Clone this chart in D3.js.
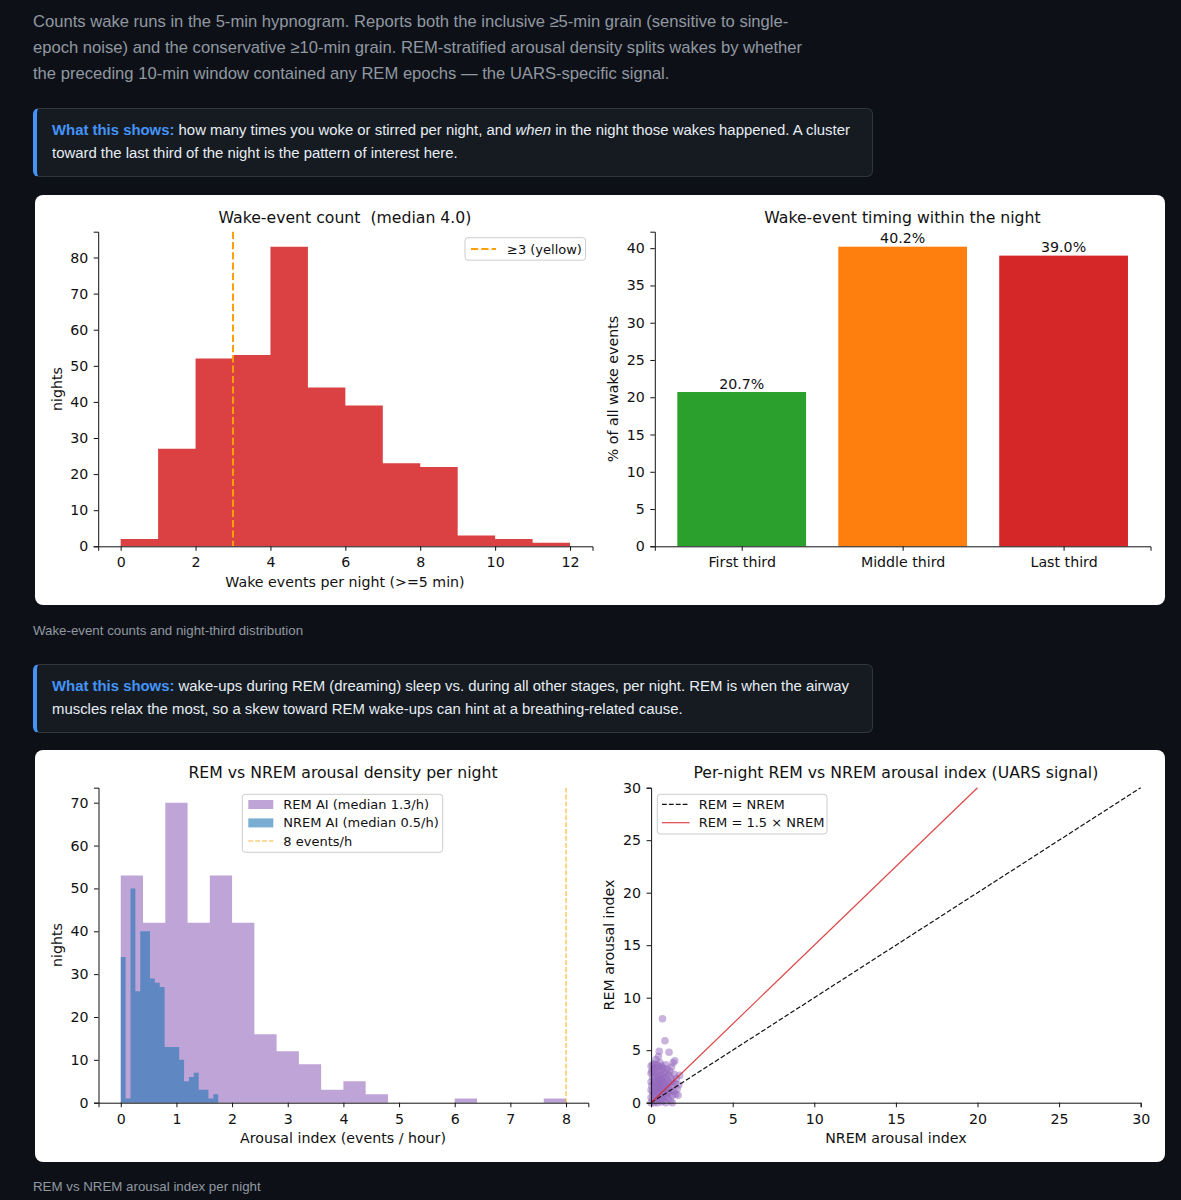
<!DOCTYPE html>
<html>
<head>
<meta charset="utf-8">
<script src="https://cdn.jsdelivr.net/npm/d3@7"></script>
<style>
  body { margin:0; background:#0d1117; width:1181px; height:1200px; position:relative; overflow:hidden;
         font-family:"Liberation Sans", Arial, sans-serif; }
  .para { position:absolute; left:33px; top:9px; color:#9198a1; font-size:16.6px; line-height:26px; white-space:nowrap; }
  .note { position:absolute; left:33px; width:840px; height:69px; box-sizing:border-box; background:#161b22;
          border:1px solid #30363d; border-left:4px solid #4493f8; border-radius:6px;
          padding:10px 0 0 15px; color:#e6edf3; font-size:14.9px; line-height:23px; white-space:nowrap; }
  .note b { color:#4493f8; }
  .cap { position:absolute; left:33px; color:#9198a1; font-size:13.3px; line-height:16px; white-space:nowrap; }
  svg { position:absolute; left:0; top:0; }
  svg text { white-space:pre; }
</style>
</head>
<body>
<div class="para">Counts wake runs in the 5-min hypnogram. Reports both the inclusive ≥5-min grain (sensitive to single-<br>epoch noise) and the conservative ≥10-min grain. REM-stratified arousal density splits wakes by whether<br>the preceding 10-min window contained any REM epochs — the UARS-specific signal.</div>
<div class="note" style="top:108px"><b>What this shows:</b> how many times you woke or stirred per night, and <i>when</i> in the night those wakes happened. A cluster<br>toward the last third of the night is the pattern of interest here.</div>
<div class="cap" style="top:623px">Wake-event counts and night-third distribution</div>
<div class="note" style="top:664px"><b>What this shows:</b> wake-ups during REM (dreaming) sleep vs. during all other stages, per night. REM is when the airway<br>muscles relax the most, so a skew toward REM wake-ups can hint at a breathing-related cause.</div>
<div class="cap" style="top:1179px">REM vs NREM arousal index per night</div>
<script>
// wake events per night histogram
const wakeEdges = [0,1,2,3,4,5,6,7,8,9,10,11,12];
const wakeCounts = [2,27,52,53,83,44,39,23,22,3,2,1];
const wakeThreshold = 3;

// wake timing by night third
const thirdLabels = ["First third","Middle third","Last third"];
const thirdPct = [20.7,40.2,39.0];

// REM / NREM arousal index histograms
const remEdges = [0,0.4,0.8,1.2,1.6,2.0,2.4,2.8,3.2,3.6,4.0,4.4,4.8,5.2,5.6,6.0,6.4,6.8,7.2,7.6,8.0];
const remCounts = [53,42,70,42,53,42,16,12,9,3,5,2,0,0,0,1,0,0,0,1];
const nremEdges = [0,0.0875,0.175,0.2625,0.35,0.4375,0.525,0.6125,0.7,0.7875,0.875,0.9625,1.05,1.1375,1.225,1.3125,1.4,1.4875,1.575,1.6625,1.75];
const nremCounts = [34,1,50,26,40,40,29,28,27,13,13,13,10,5,6,7,3,3,1,2];
const arousalRef = 8;

// per-night scatter (NREM AI, REM AI)
const nremAI = [0,0,0,0,0,0,0.05,0.05,0.1,0.1,0.1,0.1,0.15,0.15,0.15,0.2,0.2,0.2,0.2,0.2,0.2,0.25,0.25,
  0.3,0.3,0.3,0.3,0.3,0.35,0.35,0.35,0.35,0.4,0.4,0.4,0.4,0.45,0.45,0.45,0.45,0.5,0.5,0.5,0.5,0.5,
  0.55,0.55,0.55,0.55,0.6,0.6,0.6,0.6,0.65,0.65,0.65,0.65,0.7,0.7,0.7,0.7,0.75,0.75,0.75,0.8,0.8,0.8,
  0.85,0.85,0.85,0.9,0.9,0.9,0.9,0.95,0.95,0.95,1.0,1.0,1.0,1.05,1.05,1.1,1.1,1.1,1.15,1.15,1.2,1.2,
  1.25,1.25,1.3,1.3,1.35,1.35,1.4,1.4,1.45,1.5,1.5,1.55,1.6,1.65,1.75,1.7,1.3];
const remAI = [0,0.5,1.2,2.0,2.8,3.5,1.6,3.0,0.3,1.0,2.4,3.6,0.8,1.8,3.2,0,0.6,1.3,2.1,2.9,3.7,1.6,2.5,
  0.2,1.0,1.9,3.3,4.1,0.6,1.4,2.6,3.6,0,1.1,2.0,3.0,0.4,1.7,2.4,4.4,0.9,1.5,2.2,3.4,4.9,
  0.3,1.2,2.7,3.8,0.7,1.8,2.3,3.1,0.1,1.4,2.0,3.5,0.5,1.0,2.6,8.0,1.6,2.2,3.3,0.3,1.2,2.9,
  5.9,0.8,1.9,0,1.4,2.4,3.6,0.6,1.7,2.8,1.0,2.1,3.2,0.4,1.5,2.6,4.8,0.9,1.9,3.0,0.2,1.2,
  2.3,3.4,0.7,1.6,3.8,2.0,1.1,2.7,4.0,0.8,1.8,2.3,1.3,0.7,2.6,1.7,0];

const FONT = "DejaVu Sans";
const TICK = 14.2, TITLE = 15.7;
const svg = d3.select("body").append("svg").attr("width", 1181).attr("height", 1200);

svg.append("rect").attr("x", 35).attr("y", 195).attr("width", 1130).attr("height", 410).attr("rx", 8).attr("fill", "#fff");
svg.append("rect").attr("x", 35).attr("y", 750).attr("width", 1130).attr("height", 412).attr("rx", 8).attr("fill", "#fff");

function axes(x, y, xt, yt, xfmt) {
  const [x0] = x.range(), [yb] = y.range();
  const gx = svg.append("g").attr("transform", `translate(0,${yb})`)
    .call(d3.axisBottom(x).tickValues(xt).tickFormat(xfmt || d3.format("d")).tickSizeOuter(0).tickSize(4.5).tickPadding(6.5));
  const gy = svg.append("g").attr("transform", `translate(${x0},0)`)
    .call(d3.axisLeft(y).tickValues(yt).tickFormat(d3.format("d")).tickSizeOuter(0).tickSize(4.5).tickPadding(5.5));
  [gx, gy].forEach(g => {
    g.attr("font-family", FONT).attr("font-size", TICK);
    g.selectAll("text").attr("fill", "#111");
    g.selectAll("line,path").attr("stroke", "#111").attr("stroke-width", 1);
  });
}

function title(txt, cx, cy) {
  svg.append("text").attr("x", cx).attr("y", cy).attr("dy", "0.35em").attr("text-anchor", "middle")
    .attr("font-family", FONT).attr("font-size", TITLE).attr("fill", "#111").text(txt);
}
function xlabel(txt, cx, cy) {
  svg.append("text").attr("x", cx).attr("y", cy).attr("dy", "0.35em").attr("text-anchor", "middle")
    .attr("font-family", FONT).attr("font-size", TICK).attr("fill", "#111").text(txt);
}
function ylabel(txt, cx, cy) {
  svg.append("text").attr("transform", `translate(${cx},${cy}) rotate(-90)`).attr("dy", "0.35em")
    .attr("text-anchor", "middle").attr("font-family", FONT).attr("font-size", TICK).attr("fill", "#111").text(txt);
}
function histPath(x, y, edges, counts) {
  const pts = counts.map((c, i) => [edges[i], c]);
  pts.push([edges[edges.length - 1], counts[counts.length - 1]]);
  return d3.area().x(d => x(d[0])).y0(y(0)).y1(d => y(d[1])).curve(d3.curveStepAfter)(pts);
}
function legendBox(x, y, w, h) {
  svg.append("rect").attr("x", x).attr("y", y).attr("width", w).attr("height", h).attr("rx", 3)
    .attr("fill", "#fff").attr("fill-opacity", 0.8).attr("stroke", "#ccc").attr("stroke-width", 1);
}
function legendText(txt, x, y) {
  svg.append("text").attr("x", x).attr("y", y).attr("dy", "0.35em").attr("font-family", FONT)
    .attr("font-size", 13).attr("fill", "#111").text(txt);
}

// ---- chart A: wake event count histogram
{
  const x = d3.scaleLinear().domain([-0.6, 12.6]).range([98.2, 592.5]);
  const y = d3.scaleLinear().domain([0, 87.15]).range([546.3, 231.7]);
  svg.append("path").attr("d", histPath(x, y, wakeEdges, wakeCounts)).attr("fill", "#d62728").attr("fill-opacity", 0.88);
  svg.append("line").attr("x1", x(wakeThreshold)).attr("x2", x(wakeThreshold)).attr("y1", y(87.15)).attr("y2", y(0))
    .attr("stroke", "#ff9f0a").attr("stroke-width", 2).attr("stroke-dasharray", "7.2,3.1");
  axes(x, y, d3.range(0, 13, 2), d3.range(0, 81, 10));
  title("Wake-event count  (median 4.0)", 345, 218);
  xlabel("Wake events per night (>=5 min)", 345, 581.7);
  ylabel("nights", 56.6, 389);
  legendBox(465, 237.7, 120.6, 22.5);
  svg.append("line").attr("x1", 471).attr("x2", 496).attr("y1", 249).attr("y2", 249)
    .attr("stroke", "#ff9f0a").attr("stroke-width", 2).attr("stroke-dasharray", "7.2,3.1");
  legendText("≥3 (yellow)", 507, 249);
}

// ---- chart B: timing by night third
{
  const x = d3.scaleLinear().domain([-0.54, 2.54]).range([654.8, 1150.5]);
  const y = d3.scaleLinear().domain([0, 42.21]).range([546.3, 231.7]);
  const colors = ["#2ca02c", "#ff7f0e", "#d62728"];
  svg.selectAll(".tbar").data(thirdPct).enter().append("rect")
    .attr("x", (d, i) => x(i - 0.4)).attr("width", (d, i) => x(i + 0.4) - x(i - 0.4))
    .attr("y", d => y(d)).attr("height", d => y(0) - y(d)).attr("fill", (d, i) => colors[i]);
  svg.selectAll(".tlab").data(thirdPct).enter().append("text")
    .attr("x", (d, i) => x(i)).attr("y", d => y(d) - 3.5).attr("text-anchor", "middle")
    .attr("font-family", FONT).attr("font-size", TICK).attr("fill", "#111").text(d => d.toFixed(1) + "%");
  axes(x, y, [0, 1, 2], d3.range(0, 41, 5), i => thirdLabels[i]);
  title("Wake-event timing within the night", 902.5, 218);
  ylabel("% of all wake events", 612.6, 389);
}

// ---- chart C: REM vs NREM arousal density histograms
{
  const x = d3.scaleLinear().domain([-0.4, 8.4]).range([98.5, 588.3]);
  const y = d3.scaleLinear().domain([0, 73.5]).range([1102.7, 787.7]);
  svg.append("path").attr("d", histPath(x, y, remEdges, remCounts)).attr("fill", "#9467bd").attr("fill-opacity", 0.6);
  svg.append("path").attr("d", histPath(x, y, nremEdges, nremCounts)).attr("fill", "#1f77b4").attr("fill-opacity", 0.6);
  svg.append("line").attr("x1", x(arousalRef)).attr("x2", x(arousalRef)).attr("y1", y(73.5)).attr("y2", y(0))
    .attr("stroke", "#ffa500").attr("stroke-width", 1.2).attr("stroke-opacity", 0.8).attr("stroke-dasharray", "4.8,2.1");
  axes(x, y, d3.range(0, 9), d3.range(0, 71, 10));
  title("REM vs NREM arousal density per night", 343, 773);
  xlabel("Arousal index (events / hour)", 343, 1138);
  ylabel("nights", 57.5, 945);
  legendBox(242.3, 794.3, 200.4, 58);
  svg.append("rect").attr("x", 248.3).attr("y", 800).attr("width", 25).attr("height", 9)
    .attr("fill", "#9467bd").attr("fill-opacity", 0.6);
  svg.append("rect").attr("x", 248.3).attr("y", 818.4).attr("width", 25).attr("height", 9)
    .attr("fill", "#1f77b4").attr("fill-opacity", 0.6);
  svg.append("line").attr("x1", 248.3).attr("x2", 273.3).attr("y1", 841).attr("y2", 841)
    .attr("stroke", "#ffa500").attr("stroke-width", 1.2).attr("stroke-opacity", 0.8).attr("stroke-dasharray", "4.8,2.1");
  legendText("REM AI (median 1.3/h)", 283.3, 804.3);
  legendText("NREM AI (median 0.5/h)", 283.3, 822.7);
  legendText("8 events/h", 283.3, 841);
}

// ---- chart D: per-night scatter
{
  const x = d3.scaleLinear().domain([0, 30]).range([651.1, 1140.7]);
  const y = d3.scaleLinear().domain([0, 30]).range([1102.7, 787.7]);
  svg.selectAll(".pt").data(nremAI).enter().append("circle")
    .attr("cx", d => x(d)).attr("cy", (d, i) => y(remAI[i])).attr("r", 3.8)
    .attr("fill", "#9467bd").attr("fill-opacity", 0.5);
  svg.append("line").attr("x1", x(0)).attr("y1", y(0)).attr("x2", x(30)).attr("y2", y(30))
    .attr("stroke", "#111").attr("stroke-width", 1.2).attr("stroke-dasharray", "4.8,2.1");
  svg.append("line").attr("x1", x(0)).attr("y1", y(0)).attr("x2", x(20)).attr("y2", y(30))
    .attr("stroke", "#d62728").attr("stroke-width", 1.2).attr("stroke-opacity", 0.85);
  axes(x, y, d3.range(0, 31, 5), d3.range(0, 31, 5));
  title("Per-night REM vs NREM arousal index (UARS signal)", 895.9, 773);
  xlabel("NREM arousal index", 895.9, 1138);
  ylabel("REM arousal index", 609, 945);
  legendBox(657.3, 794.3, 169.7, 39.7);
  svg.append("line").attr("x1", 662).attr("x2", 689.6).attr("y1", 804.3).attr("y2", 804.3)
    .attr("stroke", "#111").attr("stroke-width", 1.2).attr("stroke-dasharray", "4.8,2.1");
  svg.append("line").attr("x1", 662).attr("x2", 689.6).attr("y1", 822.7).attr("y2", 822.7)
    .attr("stroke", "#d62728").attr("stroke-width", 1.2).attr("stroke-opacity", 0.85);
  legendText("REM = NREM", 698.8, 804.3);
  legendText("REM = 1.5 × NREM", 698.8, 822.7);
}
</script>
</body>
</html>
